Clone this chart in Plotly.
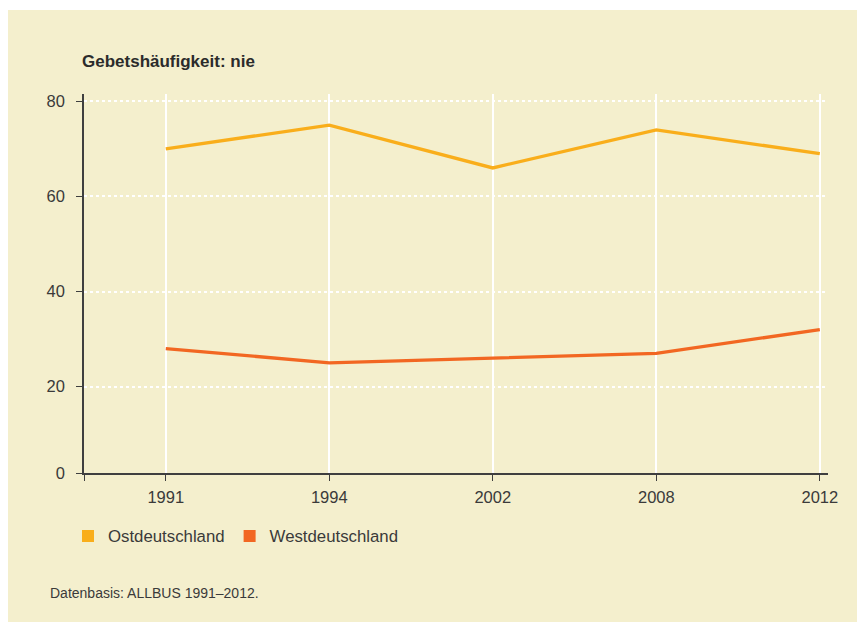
import plotly.graph_objects as go

# ---- data ----
years = ["1991", "1994", "2002", "2008", "2012"]
ost = [70, 75, 66, 74, 69]
west = [28, 25, 26, 27, 32]
y_tick_values = [20, 40, 60, 80]
y_tick_labels = ["20", "40", "60", "80"]
series_names = ["Ostdeutschland", "Westdeutschland"]
title_text = "<b>Gebetshäufigkeit: nie</b>"
source_text = "Datenbasis: ALLBUS 1991–2012."

# ---- style ----
W, H = 865, 622
OFF = 8  # page body margin
L, R, T, B = 76, 45, 86, 157
BG = "#F4EFCD"
C_OST = "#F9AE1B"
C_WEST = "#F26722"
TXT = "#3a3a3a"
AX = "#3f3f3f"
FONT = "Liberation Sans, Arial, sans-serif"
Y_MIN, Y_MAX = 1.83, 81.55

pw = W - L - R
ph = H - T - B

def px_x(p):  # screen pixel -> paper fraction
    return (p - OFF - L) / pw

def px_y(p):
    return (H - B - (p - OFF)) / ph

xi = list(range(len(years)))

fig = go.Figure()
fig.add_trace(go.Scatter(x=xi, y=ost, mode="lines", line=dict(color=C_OST, width=3.3),
                         showlegend=False, hoverinfo="skip"))
fig.add_trace(go.Scatter(x=xi, y=west, mode="lines", line=dict(color=C_WEST, width=3.3),
                         showlegend=False, hoverinfo="skip"))
for name, col in zip(series_names, [C_OST, C_WEST]):
    fig.add_trace(go.Scatter(x=[None], y=[None], mode="markers", name=name,
                             marker=dict(symbol="square", size=13, color=col)))

fig.update_layout(
    width=W, height=H,
    margin=dict(l=L, r=R, t=T, b=B, pad=0),
    paper_bgcolor=BG, plot_bgcolor=BG,
    font=dict(family=FONT, color=TXT, size=16),
    showlegend=True,
    legend=dict(orientation="h", x=px_x(68), y=px_y(536), xanchor="left", yanchor="middle",
                font=dict(size=16.8, color=TXT), bgcolor="rgba(0,0,0,0)",
                itemsizing="constant", tracegroupgap=0),
    xaxis=dict(
        range=[-0.5, 4.05],
        tickmode="array",
        tickvals=[-0.5] + xi,
        ticktext=[""] + years,
        showgrid=True, gridcolor="white", gridwidth=1.6,
        showline=True, linecolor=AX, linewidth=1.6,
        ticks="outside", ticklen=6, tickwidth=1.4, tickcolor=AX,
        ticklabelstandoff=2,
        tickfont=dict(size=16.5, color=TXT),
        zeroline=False, fixedrange=True,
    ),
    yaxis=dict(
        range=[Y_MIN, Y_MAX],
        tickmode="array",
        tickvals=[Y_MIN] + y_tick_values,
        ticktext=["0"] + y_tick_labels,
        showgrid=True, gridcolor="white", gridwidth=2, griddash="dot",
        showline=True, linecolor=AX, linewidth=1.6,
        ticks="outside", ticklen=6, tickwidth=1.4, tickcolor=AX,
        ticklabelstandoff=8,
        tickfont=dict(size=16.5, color=TXT),
        zeroline=False, fixedrange=True,
    ),
    shapes=[
        dict(type="rect", xref="paper", yref="paper", x0=px_x(0), x1=px_x(W + 20),
             y0=px_y(10), y1=px_y(0), fillcolor="white", line=dict(width=0), layer="below"),
    ],
    annotations=[
        dict(text=title_text, xref="paper", yref="paper", x=px_x(80), y=px_y(62),
             xanchor="left", yanchor="middle", showarrow=False,
             font=dict(size=17, color="#2b2b2b")),
        dict(text=source_text, xref="paper", yref="paper", x=px_x(48), y=px_y(593),
             xanchor="left", yanchor="middle", showarrow=False,
             font=dict(size=14, color=TXT)),
    ],
)

fig.write_html("out.html")
